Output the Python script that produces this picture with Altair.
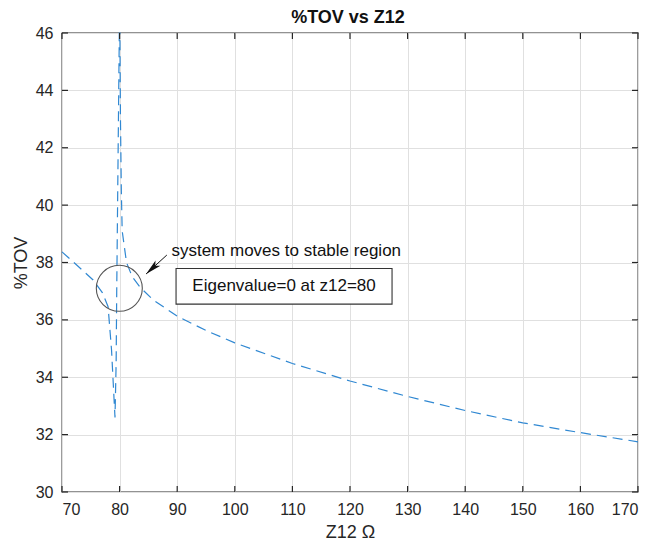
import altair as alt
import pandas as pd

# ---- data ----
z12 = [70, 72.5, 75.4, 77, 78, 78.6, 79.2, 79.4, 79.5, 79.65, 79.8, 79.95,
       80.05, 80.15, 80.3, 80.45, 81.2, 82.2, 83.5, 85.85, 90, 95, 100,
       110, 120, 130, 140, 150, 160, 170]
tov = [38.37, 37.92, 37.39, 36.95, 36.46, 34.95, 32.6, 34.5, 37.0, 40.0, 43.0, 46.0,
       46.0, 43.0, 40.5, 39.1, 38.0, 37.5, 37.15, 36.69, 36.13, 35.63, 35.2,
       34.48, 33.87, 33.33, 32.84, 32.41, 32.07, 31.75]

x_ticks = [70, 80, 90, 100, 110, 120, 130, 140, 150, 160, 170]
y_ticks = [30, 32, 34, 36, 38, 40, 42, 44, 46]

title_text = "%TOV vs Z12"
# annotations (data coordinates)
circle_x, circle_y = [79.95], [37.1]
arrow_start = (88.2, 38.26)
arrow_tip = (84.6, 37.6)
note_text = "system moves to stable region"
note_pos = (89.0, 38.4)
box_text = "Eigenvalue=0 at z12=80"
box_x1, box_x2, box_y1, box_y2 = 89.8, 127.3, 37.79, 36.55

W, H = 576, 459
FONT = "Liberation Sans"
xs = alt.Scale(domain=[70, 170], nice=False, zero=False)
ys = alt.Scale(domain=[30, 46], nice=False, zero=False)

df = pd.DataFrame({"z12": z12, "tov": tov, "idx": list(range(len(z12)))})

base_x = alt.X("z12:Q", scale=xs,
               axis=alt.Axis(values=x_ticks, title="Z12 Ω", grid=True, domain=False,
                             ticks=False, labelPadding=9, titlePadding=6))
base_y = alt.Y("tov:Q", scale=ys,
               axis=alt.Axis(values=y_ticks, title="%TOV", grid=True, domain=False,
                             ticks=False, labelPadding=9, titlePadding=5))

line = alt.Chart(df).mark_line(color="#3088d2", strokeWidth=1.2,
                               strokeDash=[10, 6]).encode(
    x=base_x, y=base_y, order="idx:Q")

# inside ticks on all four sides
xt = pd.DataFrame({"v": x_ticks})
yt = pd.DataFrame({"v": y_ticks})
tick_style = dict(color="#262626", strokeWidth=1.2)
xb = alt.Chart(xt).mark_rule(**tick_style).encode(
    x=alt.X("v:Q", scale=xs), y=alt.value(H), y2=alt.value(H - 6))
xtop = alt.Chart(xt).mark_rule(**tick_style).encode(
    x=alt.X("v:Q", scale=xs), y=alt.value(0), y2=alt.value(6))
yl = alt.Chart(yt).mark_rule(**tick_style).encode(
    y=alt.Y("v:Q", scale=ys), x=alt.value(0), x2=alt.value(6))
yr = alt.Chart(yt).mark_rule(**tick_style).encode(
    y=alt.Y("v:Q", scale=ys), x=alt.value(W), x2=alt.value(W - 6))

circ = alt.Chart(pd.DataFrame({"x": circle_x, "y": circle_y})).mark_point(
    shape="circle", size=2116, filled=False, color="#555555", strokeWidth=1.1,
    opacity=1).encode(x=alt.X("x:Q", scale=xs), y=alt.Y("y:Q", scale=ys))

arr_df = pd.DataFrame({"x": [arrow_start[0]], "y": [arrow_start[1]],
                       "x2": [arrow_tip[0]], "y2": [arrow_tip[1]]})
arr_line = alt.Chart(arr_df).mark_rule(color="#111111", strokeWidth=1).encode(
    x=alt.X("x:Q", scale=xs), y=alt.Y("y:Q", scale=ys), x2="x2:Q", y2="y2:Q")
arr_head = alt.Chart(arr_df).mark_point(
    shape="M0,0 L0.38,1.7 L0,1.3 L-0.38,1.7 Z", size=360, filled=True,
    color="#111111", opacity=1, angle=227.5).encode(
    x=alt.X("x2:Q", scale=xs), y=alt.Y("y2:Q", scale=ys))

note = alt.Chart(pd.DataFrame({"x": [note_pos[0]], "y": [note_pos[1]],
                               "t": [note_text]})).mark_text(
    align="left", baseline="middle", font=FONT, fontSize=17, color="#111111").encode(
    x=alt.X("x:Q", scale=xs), y=alt.Y("y:Q", scale=ys), text="t:N")

box_df = pd.DataFrame({"x1": [box_x1], "x2": [box_x2], "y1": [box_y1], "y2": [box_y2],
                       "t": [box_text], "xc": [(box_x1 + box_x2) / 2],
                       "yc": [(box_y1 + box_y2) / 2]})
box = alt.Chart(box_df).mark_rect(fill="white", stroke="#333333", strokeWidth=1.1).encode(
    x=alt.X("x1:Q", scale=xs), x2="x2:Q", y=alt.Y("y1:Q", scale=ys), y2="y2:Q")
box_t = alt.Chart(box_df).mark_text(
    align="center", baseline="middle", font=FONT, fontSize=17, color="#111111").encode(
    x=alt.X("xc:Q", scale=xs), y=alt.Y("yc:Q", scale=ys), text="t:N")

title = alt.Chart(pd.DataFrame({"t": [title_text]})).mark_text(
    align="center", baseline="alphabetic", font=FONT, fontSize=18, fontWeight="bold",
    color="#111111").encode(x=alt.value(W / 2 - 2), y=alt.value(-10), text="t:N")

chart = alt.layer(line, circ, arr_line, arr_head, note, box, box_t,
                  xb, xtop, yl, yr, title).properties(
    width=W, height=H,
    background="white",
    autosize=alt.AutoSizeParams(type="none"),
    padding={"left": 54, "top": 25, "right": 10, "bottom": 52},
).configure_view(
    stroke="#262626", strokeWidth=1.3
).configure_axis(
    labelFont=FONT, labelFontSize=16, labelColor="#262626",
    titleFont=FONT, titleFontSize=18, titleColor="#262626", titleFontWeight="normal",
    gridColor="#e0e0e0", gridWidth=1
)

chart.save("out.html", embed_options={"renderer": "svg", "actions": False})
